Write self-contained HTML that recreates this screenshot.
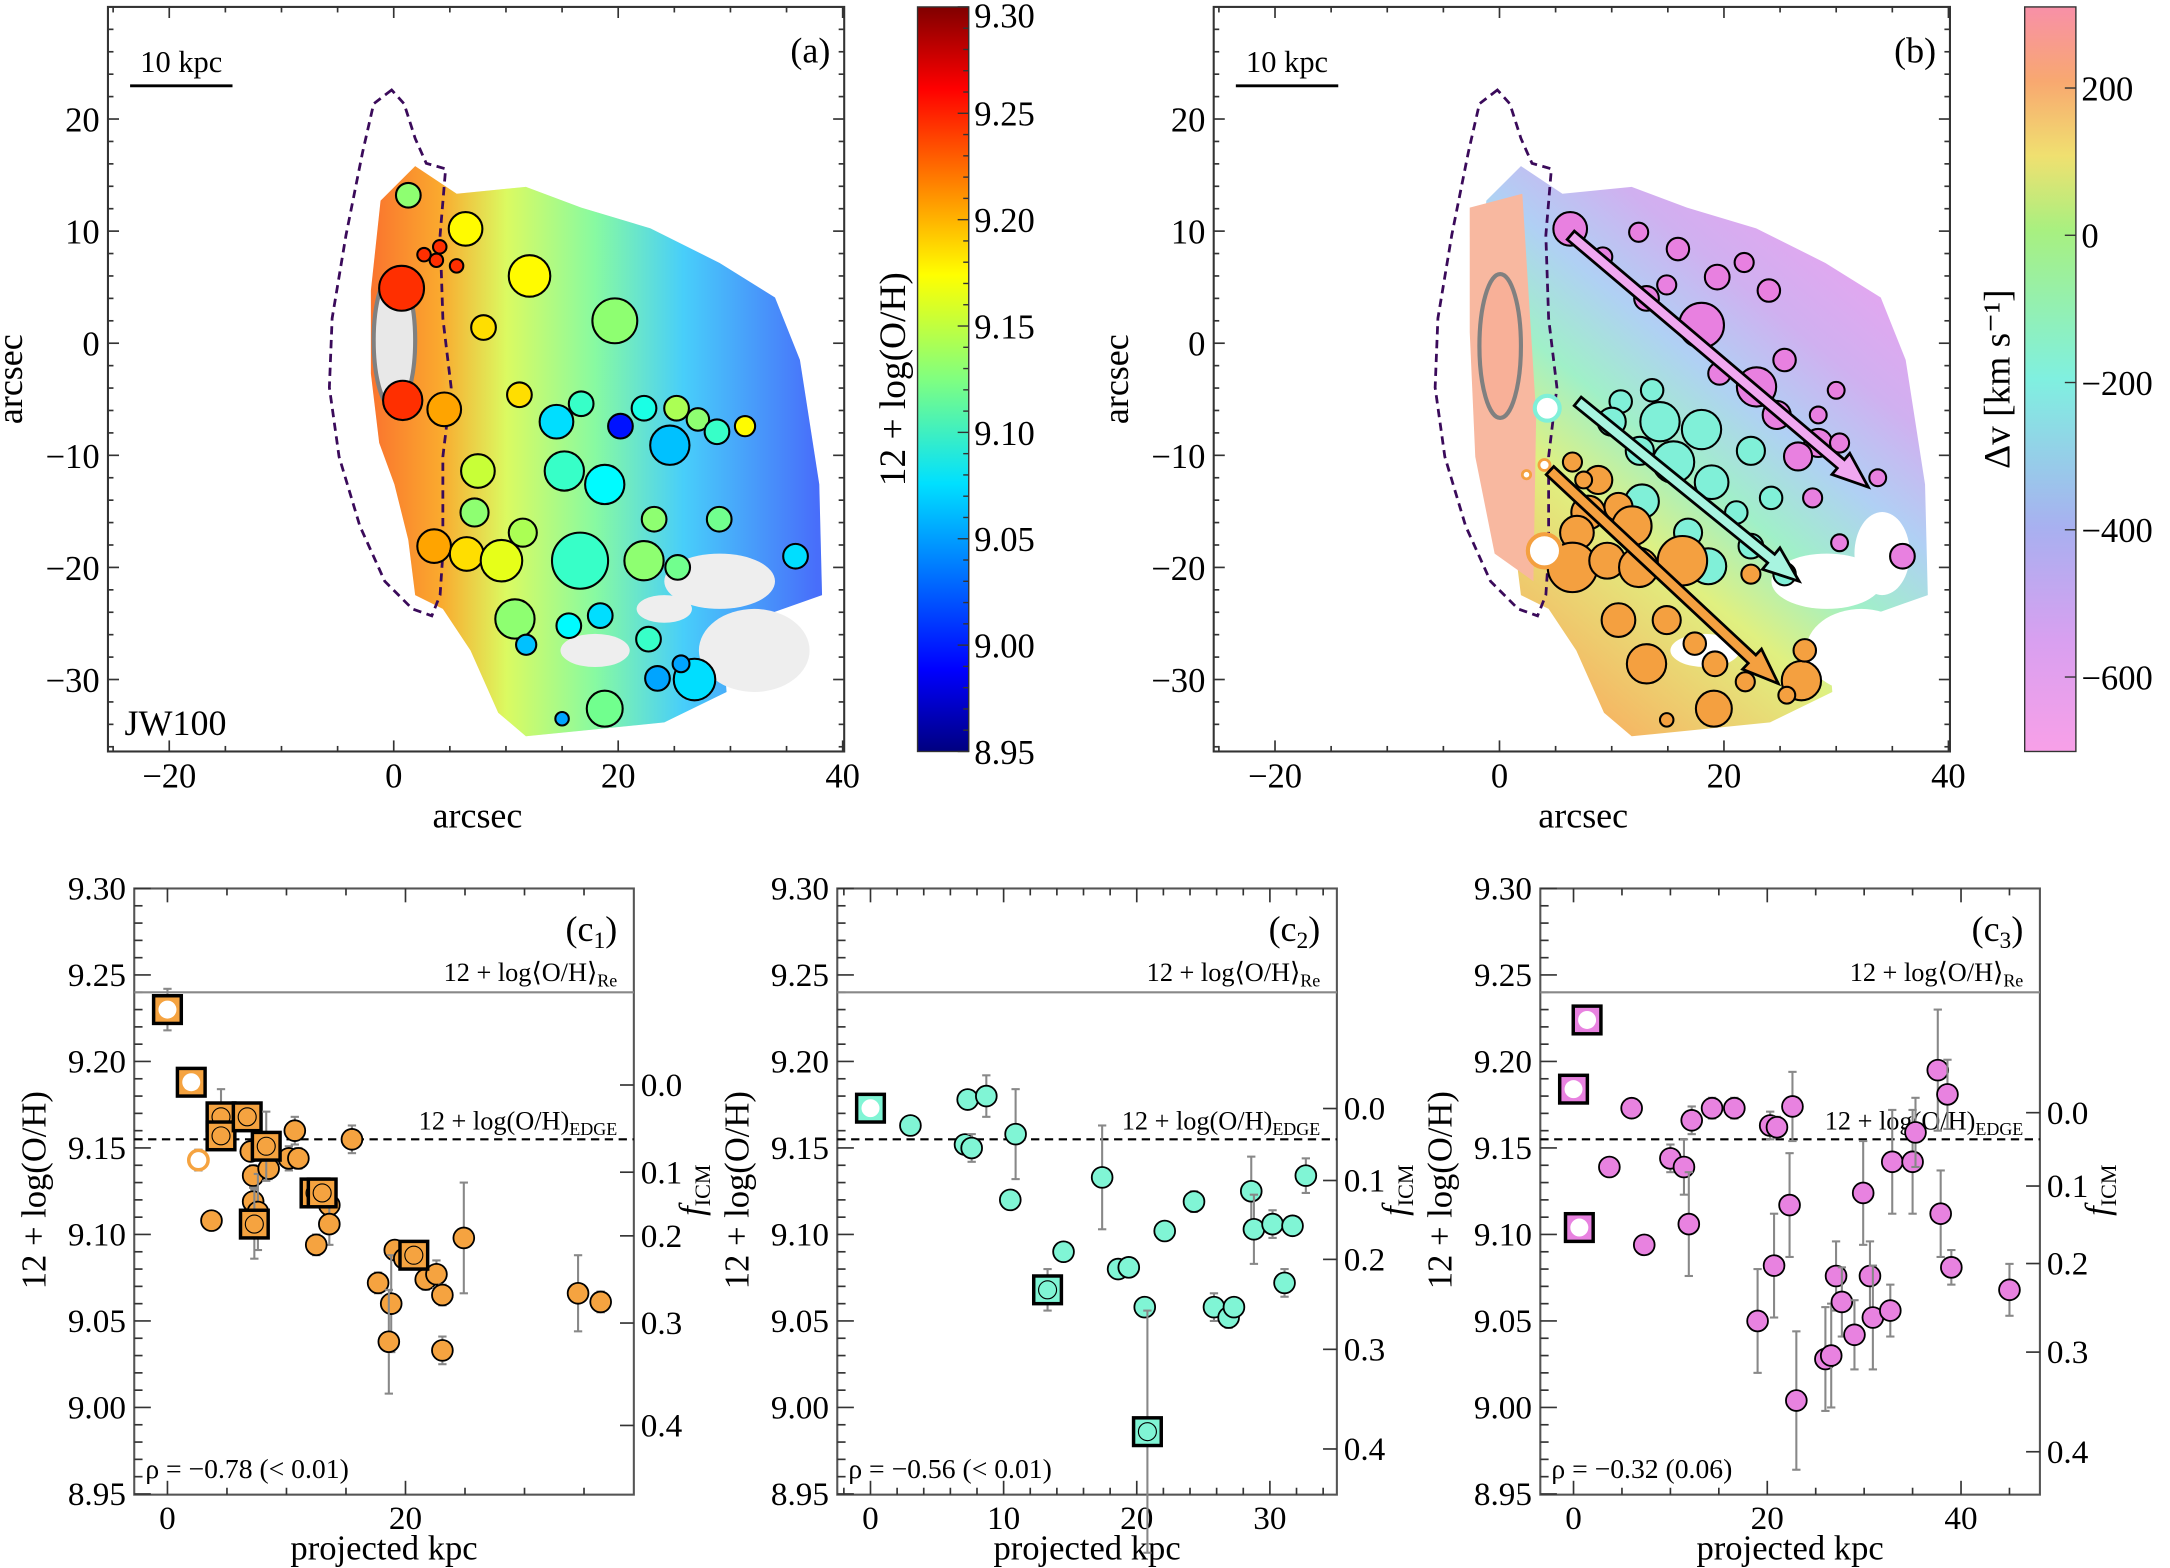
<!DOCTYPE html>
<html><head><meta charset="utf-8"><style>
html,body{margin:0;padding:0;background:#fff}
svg{display:block;font-family:"Liberation Serif",serif}
</style></head><body>
<svg id="fig" xmlns="http://www.w3.org/2000/svg" width="2170" height="1568" viewBox="0 0 1568 1133">
<defs>
<linearGradient id="jet" x1="0" y1="0" x2="0" y2="1">
<stop offset="0" stop-color="#800000"/><stop offset="0.11" stop-color="#ff0000"/><stop offset="0.36" stop-color="#ffff00"/><stop offset="0.5" stop-color="#80ff80"/><stop offset="0.64" stop-color="#00e0ff"/><stop offset="0.89" stop-color="#0000ff"/><stop offset="1" stop-color="#000080"/>
</linearGradient>
<linearGradient id="vel" x1="0" y1="0" x2="0" y2="1">
<stop offset="0" stop-color="#f890a8"/><stop offset="0.1" stop-color="#f8a870"/><stop offset="0.2" stop-color="#f0e070"/><stop offset="0.3" stop-color="#a8f080"/><stop offset="0.5" stop-color="#80f0e0"/><stop offset="0.7" stop-color="#a8b0f0"/><stop offset="0.85" stop-color="#d8a0f0"/><stop offset="1" stop-color="#f8a0e8"/>
</linearGradient>
<linearGradient id="mapA" gradientUnits="userSpaceOnUse" x1="270" y1="0" x2="590" y2="0">
<stop offset="0" stop-color="#ff5a00"/><stop offset="0.15" stop-color="#ff9a00"/><stop offset="0.3" stop-color="#d8ff40"/><stop offset="0.5" stop-color="#70ff90"/><stop offset="0.7" stop-color="#20c8ff"/><stop offset="1" stop-color="#2050ff"/>
</linearGradient>
<linearGradient id="mapB" gradientUnits="userSpaceOnUse" x1="1090" y1="480" x2="1360" y2="150">
<stop offset="0" stop-color="#f8b060"/><stop offset="0.3" stop-color="#e0f080"/><stop offset="0.45" stop-color="#a0f0c8"/><stop offset="0.6" stop-color="#b0d0f4"/><stop offset="0.75" stop-color="#d0b0f0"/><stop offset="1" stop-color="#f0a0f0"/>
</linearGradient>
</defs>
<g id="root"></g>
</svg>
<script>
// ---------- data ----------
const aX=[1.3,6.4,12.1,19.7,8.0,0.7,0.8,4.5,11.2,14.5,16.7,20.2,22.3,25.2,24.6,27.1,28.8,31.3,7.5,15.2,18.8,7.2,11.5,3.6,6.5,9.6,16.6,22.3,25.3,23.2,29.0,10.8,15.6,18.4,22.7,11.8,23.5,26.8,18.8,35.8,15.0,25.6,2.7,3.8,4.1,5.6];
const aY=[13.2,10.2,6.0,2.0,1.4,4.9,-5.1,-5.9,-4.6,-7.0,-5.4,-7.4,-5.8,-5.8,-9.1,-6.8,-7.9,-7.4,-11.4,-11.4,-12.6,-15.1,-16.9,-18.1,-18.8,-19.4,-19.4,-19.4,-20.0,-15.7,-15.7,-24.6,-25.2,-24.3,-26.4,-26.9,-29.9,-30.0,-32.6,-19.0,-33.5,-28.6,7.9,7.4,8.6,6.9];
const aR=[1.1,1.5,1.85,2.0,1.1,2.0,1.75,1.5,1.1,1.5,1.1,1.1,1.1,1.1,1.75,1.0,1.1,0.9,1.5,1.75,1.75,1.25,1.25,1.5,1.5,1.85,2.5,1.75,1.1,1.1,1.1,1.75,1.1,1.1,1.1,0.9,1.1,1.85,1.6,1.1,0.6,0.75,0.6,0.6,0.6,0.6];
const aZ=[9.13,9.17,9.17,9.13,9.18,9.24,9.24,9.20,9.18,9.07,9.10,9.00,9.09,9.14,9.06,9.13,9.10,9.17,9.15,9.10,9.08,9.13,9.14,9.20,9.18,9.16,9.10,9.13,9.12,9.13,9.12,9.13,9.08,9.07,9.10,9.06,9.05,9.07,9.12,9.07,9.05,9.05,9.24,9.24,9.24,9.24];
const bPinkX=[6.3,9.2,12.4,15.9,19.4,21.8,24.0,14.9,13.1,18.0,22.9,25.4,19.6,24.7,28.4,26.6,30.3,27.9,35.9,30.3,28.4,30.0,33.7];
const bPinkY=[10.2,7.7,9.9,8.4,5.9,7.2,4.7,5.2,4.0,1.6,-3.9,-1.5,-2.7,-6.4,-8.9,-10.1,-8.9,-13.8,-19.0,-17.8,-6.4,-4.2,-12.0];
const bPinkR=[1.5,0.85,0.85,1.0,1.1,0.85,1.0,0.85,1.1,2.0,1.75,1.0,1.0,1.25,1.25,1.25,0.85,0.85,1.1,0.75,0.75,0.75,0.75];
const bCyanX=[10.8,13.6,10.0,14.3,18.0,12.5,15.5,18.9,22.4,21.1,24.2,22.4,25.4,18.6,16.8,12.7];
const bCyanY=[-5.2,-4.2,-7.0,-7.0,-7.7,-9.6,-10.6,-12.4,-9.6,-15.1,-13.8,-18.1,-20.6,-19.9,-16.9,-14.1];
const bCyanR=[1.0,1.0,1.25,1.75,1.75,1.25,1.85,1.5,1.25,1.0,1.0,1.1,1.0,1.6,1.25,1.5];
const bOrX=[6.5,8.8,10.6,7.9,11.8,6.9,6.5,9.6,12.4,16.3,22.4,10.6,14.9,13.1,17.4,19.2,19.1,21.9,26.9,25.6,27.2,14.9,7.5];
const bOrY=[-10.6,-12.2,-14.6,-15.1,-16.3,-16.9,-20.0,-19.4,-20.0,-19.4,-20.6,-24.7,-24.7,-28.6,-26.8,-28.6,-32.6,-30.2,-30.1,-31.4,-27.4,-33.6,-12.2];
const bOrR=[0.85,1.25,1.25,1.5,1.75,1.5,2.2,1.6,1.75,2.2,0.85,1.5,1.25,1.75,1.0,1.1,1.6,0.85,1.75,0.75,1.0,0.6,0.75];
const c1X=[3.7,7.0,7.2,7.2,7.6,8.5,10.2,10.7,11.0,13.6,13.6,12.5,15.5,17.7,19.1,18.8,18.6,19.9,21.7,22.6,23.1,23.1,24.9,34.5,36.4];
const c1Y=[9.108,9.148,9.134,9.119,9.113,9.138,9.144,9.160,9.144,9.117,9.106,9.094,9.155,9.072,9.091,9.060,9.038,9.086,9.074,9.077,9.065,9.033,9.098,9.066,9.061];
const c1E=[0.004,0.004,0.006,0.008,0.022,0.006,0.007,0.008,0.006,0.012,0.012,0.006,0.008,0.006,0.005,0.028,0.03,0.004,0.006,0.008,0.006,0.008,0.032,0.022,0.006];
const c1SqX=[0.0,2.0,4.5,4.5,6.7,8.3,7.3,12.4,13.0,20.7];
const c1SqY=[9.230,9.188,9.168,9.157,9.168,9.151,9.106,9.124,9.124,9.088];
const c1SqE=[0.012,0.004,0.016,0.006,0.004,0.02,0.02,0.006,0.004,0.004];
const c1OpenX=[2.6], c1OpenY=[9.143], c1OpenE=[0.006];
const c2X=[3.0,7.3,8.7,7.1,7.6,10.9,10.5,14.5,17.4,18.6,19.4,20.6,22.1,24.3,25.8,26.9,27.3,28.6,28.8,30.2,31.7,31.1,32.7];
const c2Y=[9.163,9.178,9.180,9.152,9.150,9.158,9.120,9.090,9.133,9.080,9.081,9.058,9.102,9.119,9.058,9.052,9.058,9.125,9.103,9.106,9.105,9.072,9.134];
const c2E=[0.003,0.004,0.012,0.004,0.008,0.026,0.004,0.004,0.03,0.004,0.004,0.004,0.005,0.006,0.008,0.006,0.005,0.02,0.02,0.008,0.005,0.008,0.01];
const c2SqX=[0.0,13.3,20.8], c2SqY=[9.173,9.068,8.986], c2SqE=[0.004,0.012,0.07];
const c3X=[3.7,6.0,7.3,10.0,11.4,12.2,11.9,14.3,16.6,19.0,20.3,20.7,21.0,22.6,22.3,23.0,26.0,26.6,27.1,27.7,29.0,29.9,30.6,30.9,32.7,32.9,35.0,35.3,37.6,37.9,38.6,39.0,45.0];
const c3Y=[9.139,9.173,9.094,9.144,9.139,9.166,9.106,9.173,9.173,9.050,9.163,9.082,9.162,9.174,9.117,9.004,9.028,9.030,9.076,9.061,9.042,9.124,9.076,9.052,9.056,9.142,9.142,9.159,9.195,9.112,9.181,9.081,9.068];
const c3E=[0.004,0.004,0.004,0.008,0.016,0.008,0.03,0.006,0.006,0.03,0.008,0.03,0.006,0.02,0.03,0.04,0.03,0.03,0.02,0.02,0.02,0.03,0.02,0.03,0.015,0.03,0.03,0.02,0.035,0.025,0.02,0.01,0.015];
const c3SqX=[1.4,0.0,0.6], c3SqY=[9.224,9.184,9.104], c3SqE=[0.003,0.004,0.006];
const rhoLabels=["ρ = −0.78 (< 0.01)","ρ = −0.56 (< 0.01)","ρ = −0.32 (0.06)"];
const fTicks=["0.0","0.1","0.2","0.3","0.4"];

// ---------- helpers ----------
const NS="http://www.w3.org/2000/svg";
const root=document.getElementById('root');
function mk(tag,attrs,parent,text){const e=document.createElementNS(NS,tag);for(const k in attrs)e.setAttribute(k,attrs[k]);if(text!==undefined)e.textContent=text;(parent||root).appendChild(e);return e;}
function jet(v){let t=(v-8.95)/0.35;t=Math.max(0,Math.min(1,t));
 const r=Math.max(0,Math.min(1,1.5-Math.abs(4*t-3))),g=Math.max(0,Math.min(1,1.5-Math.abs(4*t-2))),b=Math.max(0,Math.min(1,1.5-Math.abs(4*t-1)));
 return `rgb(${Math.round(r*255)},${Math.round(g*255)},${Math.round(b*255)})`;}

function mapPanel(ox,name){
 const g=mk('g',{});
 
 
 const X0=ox+284.5, PX=8.11, Y0=248, PY=8.1;
 const sx=a=>X0+a*PX, sy=a=>Y0-a*PY;
 return {g,sx,sy,PX,ox};
}
function drawFrame(p,label){
 const g=p.g, ox=p.ox;
 const L=ox+78,R=ox+610,T=5,B=543;
 mk('rect',{x:L,y:T,width:R-L,height:B-T,fill:'none',stroke:'#333','stroke-width':1.5},g);
 for(let v=-25;v<=40;v+=5){const x=p.sx(v);if(x<L||x>R+1)continue;const maj=v%20===0;
  mk('line',{x1:x,y1:B,x2:x,y2:B-(maj?8:4),stroke:'#333','stroke-width':1.2},g);
  mk('line',{x1:x,y1:T,x2:x,y2:T+(maj?8:4),stroke:'#333','stroke-width':1.2},g);
  if(maj){const t=mk('text',{x:x,y:B+26,'font-size':25,'text-anchor':'middle'},g,(v<0?'−':'')+Math.abs(v));}}
 for(let v=-36;v<=30;v+=2){const y=p.sy(v);if(y<T+4||y>B)continue;const maj=v%10===0;
  mk('line',{x1:L,y1:y,x2:L+(maj?8:4),y2:y,stroke:'#333','stroke-width':1.2},g);
  mk('line',{x1:R,y1:y,x2:R-(maj?8:4),y2:y,stroke:'#333','stroke-width':1.2},g);
  if(maj){const t=mk('text',{x:L-6,y:y+9,'font-size':25,'text-anchor':'end'},g,(v<0?'−':'')+Math.abs(v));}}
 let t=mk('text',{x:ox+345,y:598,'font-size':26,'text-anchor':'middle'},g,'arcsec');
 
 t=mk('text',{x:0,y:0,'font-size':26,'text-anchor':'middle',transform:`translate(${ox+16},274) rotate(-90)`},g,'arcsec');
 
 t=mk('text',{x:ox+600,y:45,'font-size':26,'text-anchor':'end'},g,label);
 
 mk('line',{x1:ox+94,y1:62,x2:ox+168,y2:62,stroke:'#000','stroke-width':2},g);
 t=mk('text',{x:ox+131,y:52,'font-size':22,'text-anchor':'middle'},g,'10 kpc');
 
}
const galaxyPts=[[275,145],[300,120],[330,140],[380,135],[420,150],[470,165],[520,190],[560,215],[578,260],[592,350],[594,430],[560,442],[522,462],[525,500],[480,522],[420,528],[380,532],[360,515],[340,470],[320,440],[300,430],[295,390],[285,350],[274,320],[268,270],[268,210]];
const contour="M283,65 L270,75 L262,110 L250,170 L240,230 L238,280 L245,330 L260,380 L278,420 L298,440 L312,445 L318,430 L320,400 L320,330 L326,280 L320,230 L318,170 L322,122 L308,118 L300,100 L292,75 Z";

const pa=mapPanel(0,'metallicity-map');
const pts=o=>galaxyPts.map(p=>(p[0]+o)+','+p[1]).join(' ');
mk('polygon',{points:pts(0),fill:'#e6e6e6'},pa.g);
mk('polygon',{points:pts(0),fill:'url(#mapA)',opacity:0.8},pa.g);
[[520,420,40,20],[430,470,25,12],[545,470,40,30],[480,440,20,10]].forEach(h=>mk('ellipse',{cx:h[0],cy:h[1],rx:h[2],ry:h[3],fill:'#eeeeee'},pa.g));
mk('ellipse',{cx:285,cy:246,rx:15,ry:50,fill:'#e8e8e8',stroke:'#808080','stroke-width':3},pa.g);
mk('path',{d:contour,fill:'none',stroke:'#3a0a5a','stroke-width':2,'stroke-dasharray':'6,4'},pa.g);
for(let i=0;i<aX.length;i++){
 const c=mk('circle',{cx:pa.sx(aX[i]),cy:pa.sy(aY[i]),r:aR[i]*pa.PX,fill:jet(aZ[i]),stroke:'#000','stroke-width':1.5},pa.g);
 
 
}
drawFrame(pa,'(a)');
let tt=mk('text',{x:90,y:531,'font-size':26},pa.g,'JW100');


const cba=mk('g',{});


mk('rect',{x:663,y:5,width:37,height:538,fill:'url(#jet)',stroke:'#333','stroke-width':1},cba);
const zTicks=["9.30","9.25","9.20","9.15","9.10","9.05","9.00","8.95"];
zTicks.forEach((s,i)=>{const y=5+i*538/7;mk('line',{x1:692,y1:y,x2:700,y2:y,stroke:'#333'},cba);
 for(let k=1;k<5&&i<7;k++){const yy=y+k*538/35;mk('line',{x1:696,y1:yy,x2:700,y2:yy,stroke:'#333'},cba);}
 const t=mk('text',{x:704,y:Math.min(Math.max(y+9,20),552),'font-size':25},cba,s);});
tt=mk('text',{x:0,y:0,'font-size':27,'text-anchor':'middle',transform:'translate(654,274) rotate(-90)'},cba,'12 + log(O/H)');


const pb=mapPanel(799,'velocity-map');
mk('polygon',{points:pts(799),fill:'url(#mapB)'},pb.g);
mk('polygon',{points:'1062,150 1100,140 1110,300 1108,420 1080,400 1066,330 1062,240',fill:'#f8b8a0'},pb.g);
[[1320,420,40,20],[1232,470,25,12],[1345,470,40,30],[1360,400,20,30]].forEach(h=>mk('ellipse',{cx:h[0],cy:h[1],rx:h[2],ry:h[3],fill:'#fff'},pb.g));
mk('ellipse',{cx:1084,cy:250,rx:15,ry:52,fill:'#f8b098',stroke:'#808080','stroke-width':3},pb.g);
mk('path',{d:contour,transform:'translate(799,0)',fill:'none',stroke:'#3a0a5a','stroke-width':2,'stroke-dasharray':'6,4'},pb.g);
function circles(xs,ys,rs,col,nm){for(let i=0;i<xs.length;i++){const c=mk('circle',{cx:pb.sx(xs[i]),cy:pb.sy(ys[i]),r:rs[i]*pb.PX,fill:col,stroke:'#000','stroke-width':1.5},pb.g);
 
 }}
circles(bPinkX,bPinkY,bPinkR,'#e880e0','pink-trail-region');
circles(bCyanX,bCyanY,bCyanR,'#80f0d8','cyan-trail-region');
circles(bOrX,bOrY,bOrR,'#f4a040','orange-trail-region');
mk('circle',{cx:1118,cy:295,r:9,fill:'#fff',stroke:'#80f0d8','stroke-width':3},pb.g);
mk('circle',{cx:1116,cy:398,r:12,fill:'#fff',stroke:'#f4a040','stroke-width':3},pb.g);
mk('circle',{cx:1116,cy:336,r:4,fill:'#fff',stroke:'#f4a040','stroke-width':2},pb.g);
mk('circle',{cx:1103,cy:343,r:3,fill:'#fff',stroke:'#f4a040','stroke-width':2},pb.g);
function arrow(x1,y1,x2,y2,col,nm){const g=mk('g',{},pb.g);
 const a=Math.atan2(y2-y1,x2-x1),c=Math.cos(a),s=Math.sin(a),w=4,hw=10,hl=26;
 const bx=x2-hl*c,by=y2-hl*s,P=(x,y,d)=>[x-d*s,y+d*c];
 const q=[P(x1,y1,w),P(bx,by,w),P(bx,by,hw),[x2,y2],P(bx,by,-hw),P(bx,by,-w),P(x1,y1,-w)];
 mk('polygon',{points:q.map(p=>p.join(',')).join(' '),fill:col,stroke:'#000','stroke-width':2},g);}
arrow(1135,170,1350,352,'#f0a8f0','pink-trail-arrow');
arrow(1140,290,1300,420,'#a8f4e0','cyan-trail-arrow');
arrow(1120,340,1285,494,'#f4a040','orange-trail-arrow');
drawFrame(pb,'(b)');

const cbb=mk('g',{});


mk('rect',{x:1463,y:5,width:37,height:538,fill:'url(#vel)',stroke:'#333','stroke-width':1},cbb);
const vTicks=[200,0,-200,-400,-600];
vTicks.forEach(v=>{const y=170-(v)*0.532;mk('line',{x1:1492,y1:y,x2:1500,y2:y,stroke:'#333'},cbb);
 const t=mk('text',{x:1504,y:y+9,'font-size':25},cbb,(v<0?'−':'')+Math.abs(v));});
tt=mk('text',{x:0,y:0,'font-size':27,'text-anchor':'middle',transform:'translate(1452,274) rotate(-90)'},cbb,'Δv [km s⁻¹]');


function scatter(L,R,x0,pxk,xmaj,xmin,xmax,col,lab,rho,fy,name,cx,cy,ce,sqx,sqy,sqe,sqWhite,ox2,oy2,oe2){
 const g=mk('g',{});
 
 
 const T=642,B=1080;
 const sx=k=>x0+k*pxk, sy=v=>T+(9.30-v)*1250;
 mk('rect',{x:L,y:T,width:R-L,height:B-T,fill:'none',stroke:'#555','stroke-width':1.5},g);
 for(let k=-xmin*4;k<=xmax;k+=xmin){const x=sx(k);if(x<L||x>R)continue;const maj=Math.abs(k%xmaj)<1e-6;
  mk('line',{x1:x,y1:B,x2:x,y2:B-(maj?10:5),stroke:'#333','stroke-width':1.2},g);
  mk('line',{x1:x,y1:T,x2:x,y2:T+(maj?10:5),stroke:'#333','stroke-width':1.2},g);
  if(maj){const t=mk('text',{x:x,y:B+25,'font-size':24,'text-anchor':'middle'},g,String(k));}}
 for(let i=0;i<=35;i++){const v=9.30-i*0.01,y=sy(v),maj=i%5===0;
  mk('line',{x1:L,y1:y,x2:L+(maj?12:6),y2:y,stroke:'#333','stroke-width':1.2},g);
  if(maj){const t=mk('text',{x:L-6,y:y+8,'font-size':24,'text-anchor':'end'},g,v.toFixed(2));}}
 fTicks.forEach((s,i)=>{const y=fy[i];mk('line',{x1:R,y1:y,x2:R-10,y2:y,stroke:'#333','stroke-width':1.2},g);
  const t=mk('text',{x:R+5,y:y+8,'font-size':24},g,s);});
 let t=mk('text',{x:0,y:0,'font-size':25,'text-anchor':'middle',transform:`translate(${L-64},860) rotate(-90)`},g,'12 + log(O/H)');
 
 t=mk('text',{x:0,y:0,'font-size':25,'text-anchor':'middle',transform:`translate(${R+50},860) rotate(-90)`},g);
 
 mk('tspan',{'font-style':'italic'},t,'f');mk('tspan',{'font-size':16,dy:5},t,'ICM');
 t=mk('text',{x:(L+R)/2,y:B+47,'font-size':25,'text-anchor':'middle'},g,'projected kpc');
 
 mk('line',{x1:L,y1:sy(9.24),x2:R,y2:sy(9.24),stroke:'#888','stroke-width':1.5},g);
 mk('line',{x1:L,y1:sy(9.155),x2:R,y2:sy(9.155),stroke:'#000','stroke-width':1.5,'stroke-dasharray':'6,4'},g);
 t=mk('text',{x:R-12,y:sy(9.24)-8,'font-size':19,'text-anchor':'end'},g);
 
 mk('tspan',{},t,'12 + log⟨O/H⟩');mk('tspan',{'font-size':13,dy:4},t,'Re');
 t=mk('text',{x:R-12,y:sy(9.155)-7,'font-size':19,'text-anchor':'end'},g);
 
 mk('tspan',{},t,'12 + log(O/H)');mk('tspan',{'font-size':13,dy:4},t,'EDGE');
 t=mk('text',{x:R-12,y:T+38,'font-size':26,'text-anchor':'end'},g);
 
 mk('tspan',{},t,'(c');mk('tspan',{'font-size':17,dy:5},t,lab);mk('tspan',{dy:-5},t,')');
 t=mk('text',{x:L+8,y:B-12,'font-size':20},g,rho);
 
 const eb=(x,v,e)=>{mk('line',{x1:sx(x),y1:sy(v-e),x2:sx(x),y2:sy(v+e),stroke:'#888','stroke-width':1.5},g);
   mk('line',{x1:sx(x)-3,y1:sy(v-e),x2:sx(x)+3,y2:sy(v-e),stroke:'#888','stroke-width':1.5},g);
   mk('line',{x1:sx(x)-3,y1:sy(v+e),x2:sx(x)+3,y2:sy(v+e),stroke:'#888','stroke-width':1.5},g);};
 for(let i=0;i<cx.length;i++){eb(cx[i],cy[i],ce[i]);
  const c=mk('circle',{cx:sx(cx[i]),cy:sy(cy[i]),r:7.5,fill:col,stroke:'#000','stroke-width':1.3},g);
  
  }
 for(let i=0;i<sqx.length;i++){eb(sqx[i],sqy[i],sqe[i]);
  const s=mk('rect',{x:sx(sqx[i])-10,y:sy(sqy[i])-10,width:20,height:20,fill:col,stroke:'#000','stroke-width':2.5},g);
  
  
  mk('circle',{cx:sx(sqx[i]),cy:sy(sqy[i]),r:6.5,fill:(sqWhite[i]?'#fff':col),stroke:(sqWhite[i]?'none':'#000'),'stroke-width':0.8},g);}
 if(ox2){for(let i=0;i<ox2.length;i++){eb(ox2[i],oy2[i],oe2[i]);
  const c=mk('circle',{cx:sx(ox2[i]),cy:sy(oy2[i]),r:7,fill:'#fff',stroke:col,'stroke-width':2.5},g);
  
  }}
}
scatter(97,458,121,8.6,20,5,40,'#f5a340','1',rhoLabels[0],[784,847,893,956,1030],'scatter-c1',c1X,c1Y,c1E,c1SqX,c1SqY,c1SqE,[1,1,0,0,0,0,0,0,0,0],c1OpenX,c1OpenY,c1OpenE);
scatter(605,966,629,9.62,10,2,36,'#80f5d5','2',rhoLabels[1],[801,853,910,975,1047],'scatter-c2',c2X,c2Y,c2E,c2SqX,c2SqY,c2SqE,[1,0,0]);
scatter(1113,1474,1137,7.0,20,5,48,'#e882e0','3',rhoLabels[2],[804,857,913,977,1049],'scatter-c3',c3X,c3Y,c3E,c3SqX,c3SqY,c3SqE,[1,1,1]);
</script>
</body></html>
